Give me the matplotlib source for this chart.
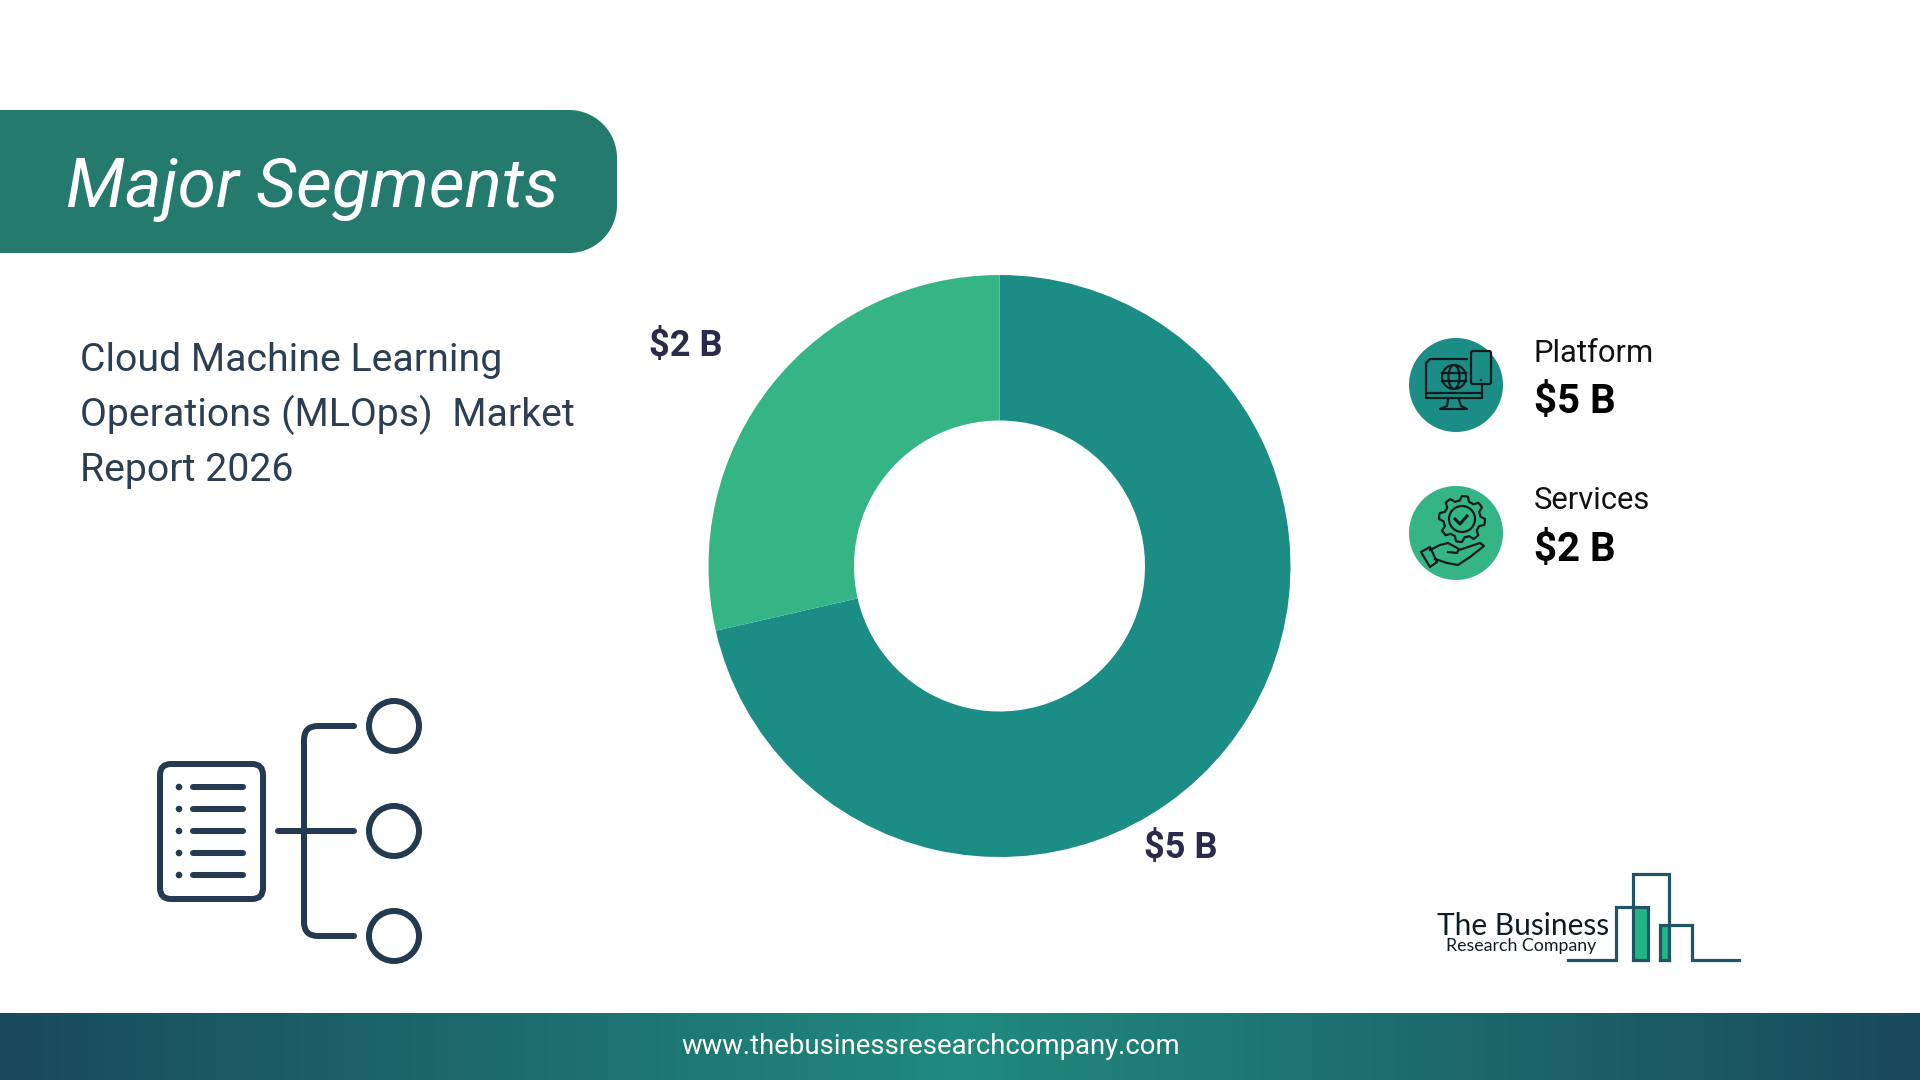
import numpy as np
import matplotlib
matplotlib.use("Agg")
import matplotlib.pyplot as plt
from matplotlib.patches import Circle, Ellipse, FancyBboxPatch, Rectangle, PathPatch, Polygon
from matplotlib.path import Path
from matplotlib.colors import LinearSegmentedColormap

plt.rcParams['font.family'] = ['Roboto', 'DejaVu Sans']

# data
segments = ["Platform", "Services"]
values = [5, 2]
value_labels = ["$5 B", "$2 B"]
seg_colors = ["#1c8d85", "#35b585"]

title = "Major Segments"
report_lines = ["Cloud Machine Learning", "Operations (MLOps)  Market", "Report 2026"]
website = "www.thebusinessresearchcompany.com"

DARK = "#233a50"
px = 0.72  # one pixel in points at dpi 100

fig = plt.figure(figsize=(19.2, 10.8), dpi=100, facecolor="white")
ax = fig.add_axes([0, 0, 1, 1])
ax.set_xlim(0, 1920)
ax.set_ylim(1080, 0)
ax.axis("off")

# footer band
grad = LinearSegmentedColormap.from_list("foot", ["#194a5a", "#208a7e", "#194a5a"])
ax.imshow(np.linspace(0, 1, 256).reshape(1, -1), cmap=grad, aspect="auto",
          extent=(0, 1920, 1080, 1013), zorder=1)
ax.set_xlim(0, 1920)
ax.set_ylim(1080, 0)
ax.text(931, 1046.5, website, color="white", fontsize=19.8, ha="center", va="center", zorder=3)

# title banner, corners are true arcs
r = 48
t = np.linspace(0, np.pi / 2, 30)
top = [(617 - r + r * np.sin(a), 110 + r - r * np.cos(a)) for a in t]
bottom = [(617 - r + r * np.cos(a), 253 - r + r * np.sin(a)) for a in t]
ax.add_patch(Polygon([(0, 110)] + top + bottom + [(0, 253)], closed=True,
                     fc="#247a6c", ec="none", zorder=2))
ax.text(66, 207, title, color="white", fontsize=50, style="italic", va="baseline", zorder=3)

# report name
for line, y in zip(report_lines, [371, 426, 481]):
    ax.text(80, y, line, color="#2c3e50", fontsize=28.3, va="baseline")

# donut
ax2 = fig.add_axes([(999.5 - 291) / 1920, 1 - (566 + 291) / 1080, 582 / 1920, 582 / 1080])
ax2.pie(values, colors=seg_colors, startangle=90, counterclock=False, radius=1,
        wedgeprops=dict(width=0.5, linewidth=0))
ax2.set_xlim(-1, 1)
ax2.set_ylim(-1, 1)

ax.text(1181, 847.5, value_labels[0], color="#2b2a4c", fontsize=26, fontweight="bold", ha="center", va="center")
ax.text(686, 346.5, value_labels[1], color="#2b2a4c", fontsize=26, fontweight="bold", ha="center", va="center")

# legend
for name, lab, col, cy, y1, y2 in zip(segments, value_labels, seg_colors, [385, 533], [362, 509], [413, 561]):
    ax.add_patch(Circle((1456, cy), 47, fc=col, ec="none"))
    ax.text(1534, y1, name, color="#111111", fontsize=22.3, va="baseline")
    ax.text(1534, y2, lab, color="black", fontsize=29, fontweight="bold", va="baseline")

# tree icon bottom left
lw = 6 * px
ax.add_patch(FancyBboxPatch((160, 764), 103, 135, boxstyle="round,pad=0,rounding_size=11",
                            fc="none", ec=DARK, lw=lw))
for y in [787, 809, 831, 853, 875]:
    ax.add_patch(Circle((179, y), 3.3, fc=DARK, ec="none"))
    ax.plot([193, 243], [y, y], color=DARK, lw=lw, solid_capstyle="round")
ax.plot([278, 354], [831, 831], color=DARK, lw=lw, solid_capstyle="round")
bracket = Path([(354, 726), (318, 726), (304, 726), (304, 740), (304, 922), (304, 936), (318, 936), (354, 936)],
               [Path.MOVETO, Path.LINETO, Path.CURVE3, Path.CURVE3, Path.LINETO, Path.CURVE3, Path.CURVE3, Path.LINETO])
ax.add_patch(PathPatch(bracket, fc="none", ec=DARK, lw=lw, capstyle="round"))
for y in [726, 831, 936]:
    ax.add_patch(Circle((394, y), 25, fc="none", ec=DARK, lw=lw))

# monitor icon
ink = "#111a1e"
thin = 2.2 * px
ax.plot([1467, 1430, 1426, 1426, 1482, 1482], [359, 359, 363, 398, 398, 385], color=ink, lw=thin)
ax.plot([1426, 1482], [393, 393], color=ink, lw=thin)
ax.plot([1448, 1447, 1440, 1467, 1461, 1459], [400, 406, 409, 409, 406, 400], color=ink, lw=thin)
ax.add_patch(Circle((1454, 377), 12, fc="none", ec=ink, lw=thin))
ax.add_patch(Ellipse((1454, 377), 11, 24, fc="none", ec=ink, lw=thin))
ax.plot([1442, 1466], [373, 373], color=ink, lw=thin)
ax.plot([1442, 1466], [381, 381], color=ink, lw=thin)
ax.add_patch(FancyBboxPatch((1471, 351), 20, 33, boxstyle="round,pad=0,rounding_size=2",
                            fc="none", ec=ink, lw=thin))
ax.add_patch(Circle((1481, 380), 1.2, fc=ink, ec="none"))

# gear and hand icon
teeth = np.deg2rad(np.arange(0, 360, 7.5))
rad = np.where((np.arange(48) % 6) < 3, 23, 18.5)
gx = 1462 + rad * np.cos(teeth)
gy = 519 + rad * np.sin(teeth)
ax.add_patch(Polygon(np.column_stack([gx, gy]), closed=True, fc="none", ec=ink, lw=thin, joinstyle="round"))
ax.add_patch(Circle((1462, 519), 13, fc="none", ec=ink, lw=thin))
ax.plot([1455, 1460, 1467], [519, 524, 516], color=ink, lw=thin + 0.6)
palm_x = [1430, 1440, 1448, 1459, 1457, 1448]
palm_y = [550, 545, 543, 549, 553, 552]
finger_x = [1459, 1480, 1484, 1470, 1458, 1447, 1435]
finger_y = [550, 543, 546, 557, 565, 563, 559]
ax.plot(palm_x, palm_y, color=ink, lw=thin, solid_joinstyle="round")
ax.plot(finger_x, finger_y, color=ink, lw=thin, solid_joinstyle="round")
ax.add_patch(Polygon([(1421, 552), (1430, 547), (1437, 562), (1430, 567)], closed=True,
                     fc="none", ec=ink, lw=thin, joinstyle="round"))

# logo
teal = "#1f5566"
ax.add_patch(Rectangle((1633, 907), 15, 53, fc="#20b486", ec="none"))
ax.add_patch(Rectangle((1661, 925), 8, 35, fc="#20b486", ec="none"))
lw2 = 3.2 * px
ax.plot([1568, 1616, 1616, 1648, 1648, 1633, 1633, 1669, 1669], [960, 960, 907, 907, 960, 960, 874, 874, 960],
        color=teal, lw=lw2, solid_joinstyle="miter")
ax.plot([1660, 1660, 1692, 1692, 1739], [960, 925, 925, 960, 960], color=teal, lw=lw2, solid_joinstyle="miter")
ax.plot([1660, 1669], [960, 960], color=teal, lw=lw2)
ax.text(1437, 935, "The Business", color="#101c24", fontsize=21.5, family=["Lato", "DejaVu Sans"],
        va="baseline")
ax.text(1446, 951, "Research Company", color="#101c24", fontsize=12.8, family=["Lato", "DejaVu Sans"],
        va="baseline")

fig.savefig("out.png", dpi=100)
